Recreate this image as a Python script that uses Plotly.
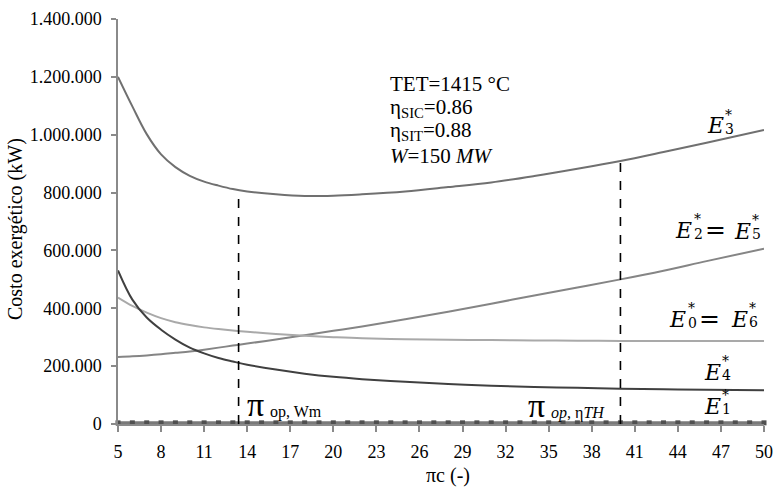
import numpy as np
import plotly.graph_objects as go

# ---------------- data ----------------
pi_c = [5, 6, 7, 8, 9, 10, 11, 12, 13, 14, 16, 18, 20, 22, 25, 28, 31, 34, 37, 40, 43, 46, 50]
E3 = [1200000, 1098000, 1002000, 932000, 888000, 858000, 838000, 824000, 812000, 804000,
      794000, 788000, 789000, 794000, 804000, 819000, 835000, 857000, 882000, 909000,
      940000, 972000, 1016000]
E2_E5 = [232000, 234000, 237000, 241000, 246000, 251000, 257000, 264000, 271000, 278000,
         292000, 307000, 322000, 337000, 362000, 388000, 416000, 444000, 472000, 500000,
         530000, 563000, 606000]
E0_E6 = [437000, 408000, 385000, 366000, 352000, 342000, 334000, 328000, 323000, 319000,
         311000, 305000, 300000, 296000, 293000, 291000, 290000, 289000, 288000, 287000,
         287000, 287000, 287000]
E4 = [531000, 430000, 368000, 326000, 292000, 264000, 244000, 228000, 216000, 205000,
      188000, 174000, 163000, 155000, 146000, 138000, 132000, 128000, 125000, 122000,
      120000, 118000, 117000]

pi_c_full = [5, 6, 7, 8, 9, 10, 11, 12, 13, 14, 15, 16, 17, 18, 19, 20, 21, 22, 23, 24, 25, 26, 27,
             28, 29, 30, 31, 32, 33, 34, 35, 36, 37, 38, 39, 40, 41, 42, 43, 44, 45, 46, 47, 48, 49, 50]
E1 = [4000, 4000, 4000, 4000, 4000, 4000, 4000, 4000, 4000, 4000, 4000, 4000, 4000, 4000, 4000, 4000,
      4000, 4000, 4000, 4000, 4000, 4000, 4000, 4000, 4000, 4000, 4000, 4000, 4000, 4000, 4000, 4000,
      4000, 4000, 4000, 4000, 4000, 4000, 4000, 4000, 4000, 4000, 4000, 4000, 4000, 4000]

pi_op = [13.4, 40.0]   # pi_op,Wm and pi_op,etaTH

x_ticks = [5, 8, 11, 14, 17, 20, 23, 26, 29, 32, 35, 38, 41, 44, 47, 50]
y_ticks = [0, 200000, 400000, 600000, 800000, 1000000, 1200000, 1400000]
y_ticktext = ["0", "200.000", "400.000", "600.000", "800.000", "1.000.000", "1.200.000", "1.400.000"]

# ---------------- layout geometry ----------------
W_PX, H_PX = 779, 488
ML, MR, MT, MB = 118, 15, 19, 64
PW, PH = W_PX - ML - MR, H_PX - MT - MB

SERIF = "Liberation Serif"
EF = "DejaVu Serif"
AXC = "#8a8a8a"

fig = go.Figure()

def curve(y, color, width=2):
    fig.add_trace(go.Scatter(x=pi_c, y=y, mode="lines",
                             line=dict(color=color, width=width, shape="spline", smoothing=1.0),
                             hoverinfo="skip", showlegend=False))

curve(E3, "#707070")
curve(E2_E5, "#858585")
curve(E0_E6, "#a9a9a9")
curve(E4, "#404040")

fig.add_trace(go.Scatter(x=pi_c_full, y=E1, mode="lines+markers",
                         line=dict(color="#7a7a7a", width=3),
                         marker=dict(symbol="square", size=5, color="#505050"),
                         cliponaxis=False, hoverinfo="skip", showlegend=False))

for p in pi_op:
    top = float(np.interp(p, pi_c, E3))
    fig.add_trace(go.Scatter(x=[p, p], y=[0, top], mode="lines",
                             line=dict(color="black", width=1.6, dash="dash"),
                             cliponaxis=False, hoverinfo="skip", showlegend=False))

anns = []

def lab(px, py, text, size, italic=False, anchor="left", fam=SERIF):
    anns.append(dict(xref="paper", yref="paper",
                     x=(px - ML) / PW, y=(H_PX - MB - py) / PH,
                     xanchor=anchor, yanchor="middle", showarrow=False,
                     text=text,
                     font=dict(family=fam, size=size, color="black",
                               style="italic" if italic else "normal")))

# info block
lab(388, 84, "TET=1415 °C", 21)
lab(388, 108, "η<sub>SIC</sub>=0.86", 21)
lab(388, 131, "η<sub>SIT</sub>=0.88", 21)
lab(388, 156, "<i>W</i>=150 <i>MW</i>", 21)

def elabel(px, py, sub, size=22):
    lab(px, py, "E", size, italic=True, fam=EF)
    lab(px + 18, py - 11, "*", 14, fam=EF)
    lab(px + 18, py + 3, sub, 14, fam=EF)

elabel(705, 126, "3")
# E2* = E5*
lab(673, 230, "E", 22, italic=True, fam=EF)
lab(692, 219, "*", 14, fam=EF)
lab(692, 234, "2", 14, fam=EF)
lab(703, 229, "=", 25, fam=EF)
elabel(732, 231, "5")
# E0* = E6*
lab(667, 319, "E", 22, italic=True, fam=EF)
lab(686, 308, "*", 14, fam=EF)
lab(686, 323, "0", 14, fam=EF)
lab(697, 318, "=", 25, fam=EF)
elabel(729, 319, "6")
elabel(702, 372, "4")
elabel(702, 406, "1")

# pi labels
lab(245, 404, "π", 34)
lab(268, 412, "op, Wm", 16)
lab(526, 405, "π", 34)
lab(549, 413, "<i>op</i>, η<i>TH</i>", 16)

# axis titles
anns.append(dict(xref="paper", yref="paper", x=(15 - ML) / PW, y=(H_PX - MB - 229) / PH,
                 xanchor="center", yanchor="middle", showarrow=False, textangle=-90,
                 text="Costo exergético (kW)", font=dict(family=SERIF, size=20, color="black")))
anns.append(dict(xref="paper", yref="paper", x=(448 - ML) / PW, y=(H_PX - MB - 475) / PH,
                 xanchor="center", yanchor="middle", showarrow=False,
                 text="πc (-)", font=dict(family=SERIF, size=20, color="black")))

fig.update_layout(
    width=W_PX, height=H_PX,
    margin=dict(l=ML, r=MR, t=MT, b=MB, pad=0, autoexpand=False),
    paper_bgcolor="white", plot_bgcolor="white",
    font=dict(family=SERIF, size=18, color="black"),
    annotations=anns,
    xaxis=dict(range=[5, 50], tickvals=x_ticks, ticks="outside", ticklen=6, tickwidth=1.5,
               tickcolor=AXC, showline=True, linecolor=AXC, linewidth=1.5, automargin=False,
               ticklabelstandoff=5,
               showgrid=False, zeroline=False, tickfont=dict(family=SERIF, size=18)),
    yaxis=dict(range=[0, 1400000], tickvals=y_ticks, ticktext=y_ticktext, ticks="outside",
               ticklen=5, tickwidth=1.5, tickcolor=AXC, showline=True, linecolor=AXC,
               linewidth=1.5, showgrid=False, zeroline=False, ticklabelstandoff=6, automargin=False,
               tickfont=dict(family=SERIF, size=18)),
)

fig.write_html("out.html", config={"displayModeBar": False},
               post_script="document.body.style.margin='0px';")
